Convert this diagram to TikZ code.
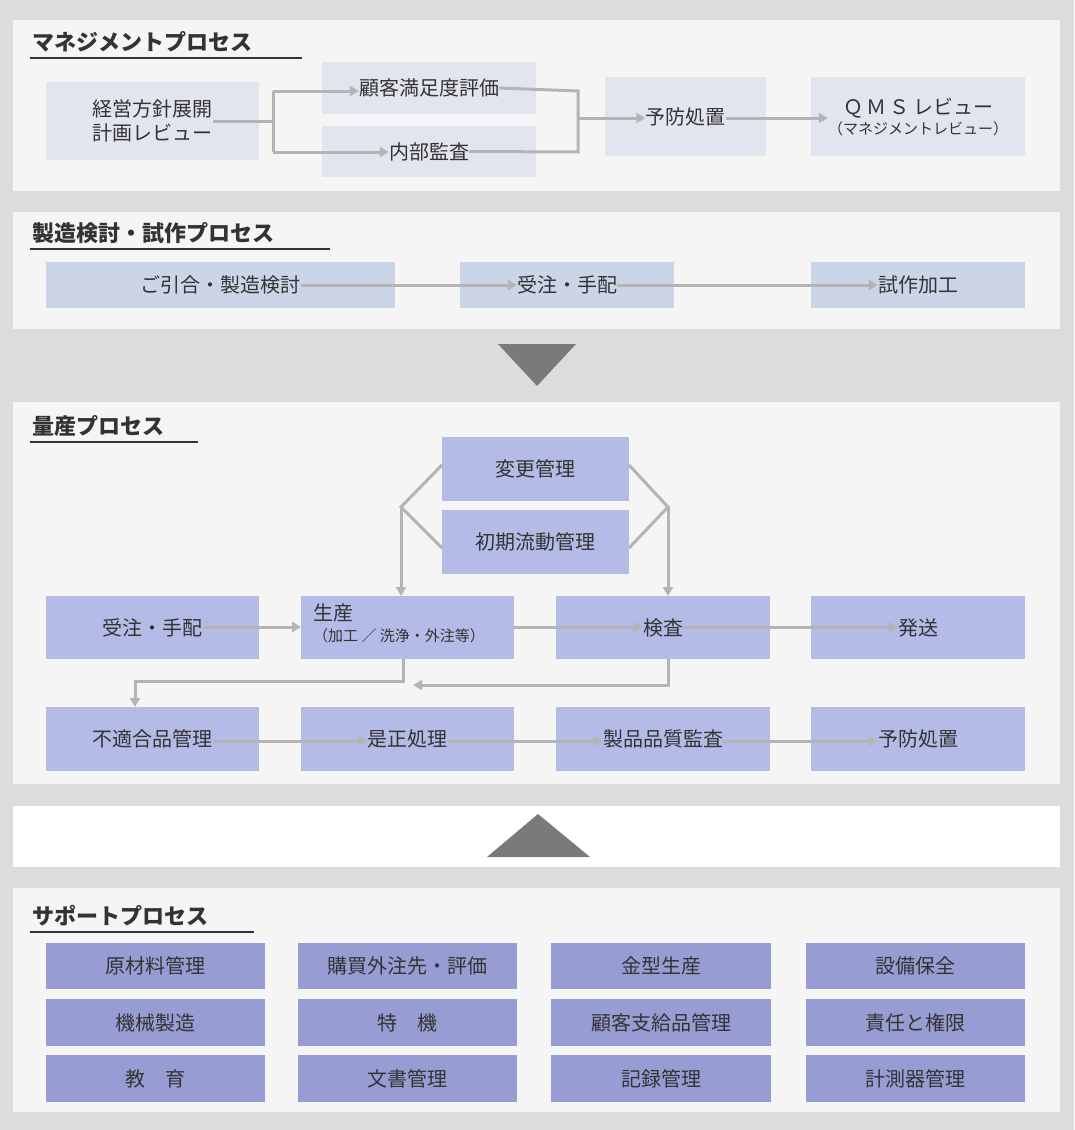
\documentclass[tikz,border=0pt]{standalone}
\usepackage{fontspec}
\newfontfamily\jp{Noto Sans CJK JP}
\usetikzlibrary{arrows.meta}
\definecolor{bg}{HTML}{DCDCDC}
\definecolor{panel}{HTML}{F5F5F5}
\definecolor{txt}{HTML}{333333}
\definecolor{ln}{HTML}{B4B4B4}
\definecolor{tri}{HTML}{7A7A7A}
\definecolor{c1}{HTML}{E3E5EE}
\definecolor{c2}{HTML}{CCD4E7}
\definecolor{c3}{HTML}{B3BBE6}
\definecolor{c4}{HTML}{979DD3}
\begin{document}
\begin{tikzpicture}[x=1pt,y=-1pt,
  font=\jp\fontsize{20}{24}\selectfont, text=txt,
  bx/.style={inner sep=0pt, align=center},
  ttl/.style={anchor=base west, inner sep=0pt, font=\jp\fontsize{22}{26}\selectfont\bfseries},
  con/.style={draw=ln, line width=3pt},
  arr/.style={draw=ln, line width=3pt, -{Triangle[length=9pt,width=10pt]}},
  ]
\fill[bg] (0,0) rectangle (1074,1130);
\useasboundingbox (0,0) rectangle (1074,1130);
\foreach \a/\b in {20/191, 212/329, 402/784, 888/1112}
  \fill[panel] (13,\a) rectangle (1060,\b);
\fill[white] (13,806) rectangle (1060,867);
\fill[tri] (498,344) -- (576,344) -- (537,386) -- cycle;
\fill[tri] (487,857) -- (590,857) -- (538,814) -- cycle;
% titles
\newcommand{\ttlline}[4]{\node[ttl] (#1) at (32,#2) {#3}; \draw[txt, line width=1.3pt] (30,#2+8) -- (#4,#2+8);}
\ttlline{t1}{50}{マネジメントプロセス}{302}
\ttlline{t2}{241}{製造検討・試作プロセス}{330}
\ttlline{t3}{434}{量産プロセス}{198}
\ttlline{t5}{924}{サポートプロセス}{254}
% helper
\newcommand{\bx}[7]{\fill[#6] (#2,#3) rectangle (#4,#5); \node[bx] (#1) at ({(#2+#4)/2},{(#3+#5)/2}) {#7};}
% panel 1
\bx{a1}{46}{82}{259}{160}{c1}{経営方針展開\\計画レビュー}
\bx{a2}{322}{62}{536}{114}{c1}{顧客満足度評価}
\bx{a3}{322}{126}{536}{177}{c1}{内部監査}
\bx{a4}{605}{77}{766}{156}{c1}{予防処置}
\bx{a5}{811}{77}{1025}{156}{c1}{Ｑ\,Ｍ\,Ｓ\,レビュー\\[-4pt]{\fontsize{15}{18}\selectfont（マネジメントレビュー）}}
\coordinate (j1) at (273,121);
\draw[con] (a1.east) -- (j1);
\draw[con] (273,91) -- (273,152);
\draw[arr] (273,91) -- (a2.west|-0,91);
\draw[arr] (273,152) -- (a3.west|-0,152);
\draw[con] (a2.east) -- (578,91) -- (578,152) -- (a3.east);
\draw[arr] (578,118) -- (a4.west|-0,118);
\draw[arr] (a4.east|-0,118) -- (a5.west|-0,118);
% panel 2
\bx{b1}{46}{262}{395}{308}{c2}{ご引合・製造検討}
\bx{b2}{460}{262}{674}{308}{c2}{受注・手配}
\bx{b3}{811}{262}{1025}{308}{c2}{試作加工}
\draw[arr] (b1) -- (b2);
\draw[arr] (b2) -- (b3);
% panel 3
\bx{m1}{442}{437}{629}{501}{c3}{変更管理}
\bx{m2}{442}{510}{629}{574}{c3}{初期流動管理}
\bx{r1}{46}{596}{259}{659}{c3}{受注・手配}
\fill[c3] (301,596) rectangle (514,659);
\node[anchor=north west, inner sep=0pt, align=left] (r2) at (313,603) {生産\\[-3pt]{\fontsize{15}{18}\selectfont（加工 ／ 洗浄・外注等）}};
\coordinate (r2w) at (301,627); \coordinate (r2e) at (514,627);
\bx{r3}{556}{596}{770}{659}{c3}{検査}
\bx{r4}{811}{596}{1025}{659}{c3}{発送}
\bx{s1}{46}{707}{259}{771}{c3}{不適合品管理}
\bx{s2}{301}{707}{514}{771}{c3}{是正処理}
\bx{s3}{556}{707}{770}{771}{c3}{製品品質監査}
\bx{s4}{811}{707}{1025}{771}{c3}{予防処置}
\draw[con] (442,465) -- (401,507) -- (442,548);
\draw[arr] (401,507) -- (401,596);
\draw[con] (629,465) -- (668,507) -- (629,548);
\draw[arr] (668,507) -- (668,596);
\draw[arr] (r1.east|-0,627) -- (r2w);
\draw[arr] (r2e) -- (r3.west|-0,627);
\draw[arr] (r3.east|-0,627) -- (r4.west|-0,627);
\draw[arr] (403,659) -- (403,681) -- (135,681) -- (135,707);
\draw[arr] (668,659) -- (668,685) -- (413,685);
\draw[arr] (s1.east|-0,741) -- (s2.west|-0,741);
\draw[arr] (s2.east|-0,741) -- (s3.west|-0,741);
\draw[arr] (s3.east|-0,741) -- (s4.west|-0,741);
% panel 5
\bx{u1}{46}{943}{265}{989}{c4}{原材料管理}
\bx{u2}{298}{943}{517}{989}{c4}{購買外注先・評価}
\bx{u3}{551}{943}{771}{989}{c4}{金型生産}
\bx{u4}{806}{943}{1025}{989}{c4}{設備保全}
\bx{v1}{46}{999}{265}{1046}{c4}{機械製造}
\bx{v2}{298}{999}{517}{1046}{c4}{特\quad 機}
\bx{v3}{551}{999}{771}{1046}{c4}{顧客支給品管理}
\bx{v4}{806}{999}{1025}{1046}{c4}{責任と権限}
\bx{w1}{46}{1055}{265}{1102}{c4}{教\quad 育}
\bx{w2}{298}{1055}{517}{1102}{c4}{文書管理}
\bx{w3}{551}{1055}{771}{1102}{c4}{記録管理}
\bx{w4}{806}{1055}{1025}{1102}{c4}{計測器管理}
\end{tikzpicture}
\end{document}
